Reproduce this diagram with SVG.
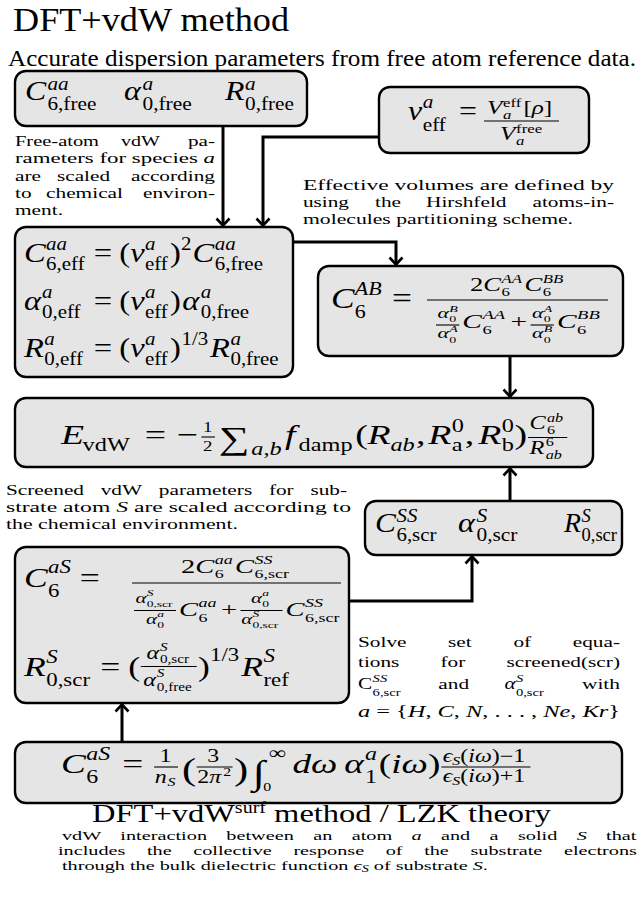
<svg xmlns="http://www.w3.org/2000/svg" width="641" height="900" viewBox="0 0 641 900" font-family="'Liberation Serif', 'Times New Roman', 'DejaVu Serif', serif">
<defs>
<style>
svg, g, text, tspan { font-family: "Liberation Serif", "Times New Roman", Tinos, "DejaVu Serif", serif; }
text { fill: #000; }
.i { font-style: italic; }
.box { fill: #e5e5e5; stroke: #000; stroke-width: 2.4; }
.conn { fill: none; stroke: #000; stroke-width: 3; }
.fb { stroke: #000; stroke-width: 1.1; }
.p { font-size: 15px; }
</style>
<marker id="ah" markerUnits="userSpaceOnUse" viewBox="-10 -8 13 16" markerWidth="13" markerHeight="16" refX="0" refY="0" orient="auto" overflow="visible">
<path d="M-7,-6.5 L0,0 L-7,6.5" fill="none" stroke="#000" stroke-width="2.6"/>
</marker>
</defs>
<rect x="0" y="0" width="641" height="900" fill="#fff"/>

<g id="title-top">
<text x="13" y="31" font-size="33" textLength="276" lengthAdjust="spacingAndGlyphs">DFT+vdW method</text>
<text x="8" y="66" font-size="22.5" textLength="628" lengthAdjust="spacingAndGlyphs">Accurate dispersion parameters from free atom reference data.</text>
</g>

<g id="connectors">
<path class="conn" d="M223,126 V225.5" marker-end="url(#ah)"/>
<path class="conn" d="M379,137 H263 V225.5" marker-end="url(#ah)"/>
<path class="conn" d="M293,242 H396 V264.5" marker-end="url(#ah)"/>
<path class="conn" d="M510,356 V396.5" marker-end="url(#ah)"/>
<path class="conn" d="M510,501 V468.5" marker-end="url(#ah)"/>
<path class="conn" d="M349,601 H472 V556.5" marker-end="url(#ah)"/>
<path class="conn" d="M122,742 V704.5" marker-end="url(#ah)"/>
</g>

<g id="node-free">
<rect class="box" x="15" y="71" width="292" height="55" rx="11"/>
<g transform="translate(25,0) scale(1.18,1)">
<text class="i" x="0" y="100" font-size="27">C</text>
<text class="i" x="19" y="90" font-size="18">aa</text>
<text x="19" y="110" font-size="18">6,free</text>
</g>
<g transform="translate(124,0) scale(1.19,1)">
<text class="i" x="0" y="100" font-size="27">α</text>
<text class="i" x="15.5" y="90" font-size="18">a</text>
<text x="15.5" y="110" font-size="18">0,free</text>
</g>
<g transform="translate(225,0) scale(1.18,1)">
<text class="i" x="0" y="100" font-size="27">R</text>
<text class="i" x="17" y="90" font-size="18">a</text>
<text x="17" y="110" font-size="18">0,free</text>
</g>
</g>

<g id="node-veff">
<rect class="box" x="379" y="87" width="210" height="66" rx="11"/>
<g transform="translate(408,0) scale(1.18,1)">
<text class="i" x="0" y="120" font-size="27">v</text>
<text class="i" x="12.5" y="108" font-size="18">a</text>
<text x="12.5" y="131" font-size="18">eff</text>
</g>
<text x="459" y="120" font-size="27" textLength="18" lengthAdjust="spacingAndGlyphs">=</text>
<line class="fb" x1="484" y1="121" x2="559" y2="121"/>
<g transform="translate(487,0) scale(1.4,1)">
<text class="i" x="0" y="114" font-size="18">V</text>
<text x="11.5" y="107" font-size="12">eff</text>
<text class="i" x="11.5" y="119.5" font-size="12">a</text>
<text x="26" y="114" font-size="18">[<tspan class="i">ρ</tspan>]</text>
</g>
<g transform="translate(500,0) scale(1.4,1)">
<text class="i" x="0" y="140" font-size="18">V</text>
<text x="11.5" y="133" font-size="12">free</text>
<text class="i" x="11.5" y="145.5" font-size="12">a</text>
</g>
</g>

<g id="note-freeatom" class="p">
<text x="15" y="146" textLength="84" lengthAdjust="spacingAndGlyphs">Free-atom</text>
<text x="121" y="146" textLength="39" lengthAdjust="spacingAndGlyphs">vdW</text>
<text x="188" y="146" textLength="27" lengthAdjust="spacingAndGlyphs">pa-</text>
<text x="15" y="163.3" textLength="200" lengthAdjust="spacingAndGlyphs">rameters for species <tspan class="i">a</tspan></text>
<text x="15" y="180.6" textLength="26" lengthAdjust="spacingAndGlyphs">are</text>
<text x="57" y="180.6" textLength="53" lengthAdjust="spacingAndGlyphs">scaled</text>
<text x="131" y="180.6" textLength="84" lengthAdjust="spacingAndGlyphs">according</text>
<text x="15" y="197.9" textLength="16.6" lengthAdjust="spacingAndGlyphs">to</text>
<text x="46" y="197.9" textLength="77" lengthAdjust="spacingAndGlyphs">chemical</text>
<text x="143" y="197.9" textLength="72" lengthAdjust="spacingAndGlyphs">environ-</text>
<text x="15" y="215.2" textLength="48" lengthAdjust="spacingAndGlyphs">ment.</text>
</g>

<g id="note-effective" class="p">
<text x="303" y="190" textLength="311" lengthAdjust="spacingAndGlyphs">Effective volumes are defined by</text>
<text x="303" y="207.2" textLength="46" lengthAdjust="spacingAndGlyphs">using</text>
<text x="375" y="207.2" textLength="26" lengthAdjust="spacingAndGlyphs">the</text>
<text x="426" y="207.2" textLength="80.5" lengthAdjust="spacingAndGlyphs">Hirshfeld</text>
<text x="532.5" y="207.2" textLength="81.5" lengthAdjust="spacingAndGlyphs">atoms-in-</text>
<text x="303" y="224.4" textLength="270" lengthAdjust="spacingAndGlyphs">molecules partitioning scheme.</text>
</g>

<g id="node-eff">
<rect class="box" x="15" y="227" width="278" height="150" rx="11"/>
<g transform="translate(24,0) scale(1.163,1)">
<text class="i" x="0" y="262" font-size="28">C</text>
<text class="i" x="19" y="250" font-size="18">aa</text>
<text x="19" y="270" font-size="18">6,eff</text>
<text x="60" y="262" font-size="28">=</text>
<text x="82" y="262" font-size="28">(</text>
<text class="i" x="91.3" y="262" font-size="28">v</text>
<text class="i" x="104" y="250" font-size="18">a</text>
<text x="104" y="270" font-size="18">eff</text>
<text x="125.5" y="262" font-size="28">)</text>
<text x="135" y="250" font-size="18">2</text>
<text class="i" x="145" y="262" font-size="28">C</text>
<text class="i" x="164" y="250" font-size="18">aa</text>
<text x="164" y="270" font-size="18">6,free</text>

<text class="i" x="0" y="310" font-size="28">α</text>
<text class="i" x="15.5" y="298" font-size="18">a</text>
<text x="15.5" y="318" font-size="18">0,eff</text>
<text x="60" y="310" font-size="28">=</text>
<text x="82" y="310" font-size="28">(</text>
<text class="i" x="91.3" y="310" font-size="28">v</text>
<text class="i" x="104" y="298" font-size="18">a</text>
<text x="104" y="318" font-size="18">eff</text>
<text x="125.5" y="310" font-size="28">)</text>
<text class="i" x="136" y="310" font-size="28">α</text>
<text class="i" x="152" y="298" font-size="18">a</text>
<text x="152" y="318" font-size="18">0,free</text>

<text class="i" x="0" y="357" font-size="28">R</text>
<text class="i" x="17.5" y="345" font-size="18">a</text>
<text x="17.5" y="365" font-size="18">0,eff</text>
<text x="60" y="357" font-size="28">=</text>
<text x="82" y="357" font-size="28">(</text>
<text class="i" x="91.3" y="357" font-size="28">v</text>
<text class="i" x="104" y="345" font-size="18">a</text>
<text x="104" y="365" font-size="18">eff</text>
<text x="125.5" y="357" font-size="28">)</text>
<text x="135.5" y="345" font-size="18">1/3</text>
<text class="i" x="160" y="357" font-size="28">R</text>
<text class="i" x="177.5" y="345" font-size="18">a</text>
<text x="177.5" y="365" font-size="18">0,free</text>
</g>
</g>

<g id="node-c6ab">
<rect class="box" x="318" y="266" width="305" height="90" rx="11"/>
<g transform="translate(331,0) scale(1.22,1)">
<text class="i" x="0" y="308" font-size="29">C</text>
<text class="i" x="19.5" y="295" font-size="18">AB</text>
<text x="19.5" y="318" font-size="18">6</text>
<text x="50" y="308" font-size="29">=</text>
</g>
<line class="fb" x1="427" y1="300" x2="608" y2="300"/>
<g transform="translate(470,0) scale(1.4,1)">
<text x="0" y="291" font-size="19">2</text>
<text class="i" x="9.5" y="291" font-size="19">C</text>
<text class="i" x="22.5" y="283" font-size="12">AA</text>
<text x="22.5" y="296" font-size="12">6</text>
<text class="i" x="39" y="291" font-size="19">C</text>
<text class="i" x="52" y="283" font-size="12">BB</text>
<text x="52" y="296" font-size="12">6</text>
</g>
<g transform="translate(436,0) scale(1.55,1)">
<text class="i" x="1" y="318" font-size="14">α</text>
<text class="i" x="8.5" y="312" font-size="9">B</text>
<text x="8.5" y="322" font-size="9">0</text>
<line class="fb" x1="0" y1="325" x2="15" y2="325"/>
<text class="i" x="1" y="338" font-size="14">α</text>
<text class="i" x="8.5" y="332" font-size="9">A</text>
<text x="8.5" y="343" font-size="9">0</text>
<text class="i" x="17" y="328" font-size="19">C</text>
<text class="i" x="30" y="319" font-size="12">AA</text>
<text x="30" y="334" font-size="12">6</text>
<text x="48" y="328" font-size="19">+</text>
<text class="i" x="62" y="318" font-size="14">α</text>
<text class="i" x="69.5" y="312" font-size="9">A</text>
<text x="69.5" y="322" font-size="9">0</text>
<line class="fb" x1="61" y1="325" x2="76" y2="325"/>
<text class="i" x="62" y="338" font-size="14">α</text>
<text class="i" x="69.5" y="332" font-size="9">B</text>
<text x="69.5" y="343" font-size="9">0</text>
<text class="i" x="78" y="328" font-size="19">C</text>
<text class="i" x="91" y="319" font-size="12">BB</text>
<text x="91" y="334" font-size="12">6</text>
</g>
</g>

<g id="node-evdw">
<rect class="box" x="15" y="398" width="578" height="69" rx="11"/>
<g transform="translate(61,0) scale(1.35,1)">
<text class="i" x="0" y="444" font-size="28">E</text>
<text x="16" y="451" font-size="18">vdW</text>
<text x="62" y="444" font-size="28">=</text>
<text x="86" y="444" font-size="28">−</text>
<text x="105.2" y="432" font-size="14">1</text>
<line class="fb" x1="104" y1="437" x2="114" y2="437"/>
<text x="105.2" y="451" font-size="14">2</text>
<text x="117" y="449" font-size="32">∑</text>
<text x="141" y="455" font-size="18"><tspan class="i">a</tspan>,<tspan class="i">b</tspan></text>
<text class="i" x="166" y="444" font-size="28">f</text>
<text x="176" y="451" font-size="18">damp</text>
<text x="218" y="444" font-size="28">(</text>
<text class="i" x="227" y="444" font-size="28">R</text>
<text class="i" x="244" y="451" font-size="18">ab</text>
<text x="263" y="444" font-size="28">,</text>
<text class="i" x="272" y="444" font-size="28">R</text>
<text x="289.5" y="432" font-size="18">0</text>
<text x="289.5" y="451" font-size="18">a</text>
<text x="299" y="444" font-size="28">,</text>
<text class="i" x="309" y="444" font-size="28">R</text>
<text x="326.5" y="432" font-size="18">0</text>
<text x="326.5" y="451" font-size="18">b</text>
<text x="336" y="444" font-size="28">)</text>
<text class="i" x="347" y="429" font-size="18">C</text>
<text class="i" x="360" y="422" font-size="12">ab</text>
<text x="360" y="434" font-size="12">6</text>
<line class="fb" x1="346" y1="437.5" x2="375" y2="437.5"/>
<text class="i" x="347" y="454" font-size="18">R</text>
<text x="359" y="446.5" font-size="12">6</text>
<text class="i" x="359" y="459" font-size="12">ab</text>
</g>
</g>

<g id="note-screened" class="p">
<text x="6" y="495" textLength="78" lengthAdjust="spacingAndGlyphs">Screened</text>
<text x="100.7" y="495" textLength="41.4" lengthAdjust="spacingAndGlyphs">vdW</text>
<text x="158.8" y="495" textLength="93.4" lengthAdjust="spacingAndGlyphs">parameters</text>
<text x="268.9" y="495" textLength="24.8" lengthAdjust="spacingAndGlyphs">for</text>
<text x="310.4" y="495" textLength="36.7" lengthAdjust="spacingAndGlyphs">sub-</text>
<text x="6" y="512.2" textLength="345" lengthAdjust="spacingAndGlyphs">strate atom <tspan class="i">S</tspan> are scaled according to</text>
<text x="6" y="529.4" textLength="232" lengthAdjust="spacingAndGlyphs">the chemical environment.</text>
</g>

<g id="node-scr">
<rect class="box" x="365" y="501" width="257" height="54" rx="11"/>
<g transform="translate(375,0) scale(1.16,1)">
<text class="i" x="0" y="532" font-size="27">C</text>
<text class="i" x="18.5" y="522" font-size="18">SS</text>
<text x="18.5" y="541" font-size="18">6,scr</text>
</g>
<g transform="translate(458,0) scale(1.19,1)">
<text class="i" x="0" y="532" font-size="27">α</text>
<text class="i" x="15.5" y="522" font-size="18">S</text>
<text x="15.5" y="541" font-size="18">0,scr</text>
</g>
<g transform="translate(564,0) scale(1.03,1)">
<text class="i" x="0" y="532" font-size="27">R</text>
<text class="i" x="17" y="522" font-size="18">S</text>
<text x="17" y="541" font-size="18">0,scr</text>
</g>
</g>

<g id="node-c6as">
<rect class="box" x="15" y="547" width="334" height="156" rx="11"/>
<g transform="translate(24,0) scale(1.27,1)">
<text class="i" x="0" y="587" font-size="28">C</text>
<text class="i" x="19" y="573" font-size="18">aS</text>
<text x="19" y="597" font-size="18">6</text>
<text x="44" y="587" font-size="28">=</text>
</g>
<line class="fb" x1="132" y1="583" x2="341" y2="583"/>
<g transform="translate(181,0) scale(1.5,1)">
<text x="0" y="573" font-size="19">2</text>
<text class="i" x="9.5" y="573" font-size="19">C</text>
<text class="i" x="22.5" y="564" font-size="12">aa</text>
<text x="22.5" y="578" font-size="12">6</text>
<text class="i" x="36" y="573" font-size="19">C</text>
<text class="i" x="49" y="564" font-size="12">SS</text>
<text x="49" y="578" font-size="12">6,scr</text>
</g>
<g transform="translate(134,0) scale(1.5,1)">
<text class="i" x="1" y="603" font-size="14">α</text>
<text class="i" x="8.5" y="596" font-size="9">S</text>
<text x="8.5" y="607" font-size="9">0,scr</text>
<line class="fb" x1="0" y1="610.5" x2="28" y2="610.5"/>
<text class="i" x="8" y="624" font-size="14">α</text>
<text class="i" x="15.5" y="617" font-size="9">a</text>
<text x="15.5" y="628" font-size="9">0</text>
<text class="i" x="30" y="616" font-size="19">C</text>
<text class="i" x="43" y="607" font-size="12">aa</text>
<text x="43" y="622" font-size="12">6</text>
<text x="58" y="616" font-size="19">+</text>
<text class="i" x="78" y="603" font-size="14">α</text>
<text class="i" x="85.5" y="596" font-size="9">a</text>
<text x="85.5" y="607" font-size="9">0</text>
<line class="fb" x1="71" y1="610.5" x2="99" y2="610.5"/>
<text class="i" x="71.5" y="624" font-size="14">α</text>
<text class="i" x="79" y="617" font-size="9">S</text>
<text x="79" y="628" font-size="9">0,scr</text>
<text class="i" x="101" y="616" font-size="19">C</text>
<text class="i" x="114" y="607" font-size="12">SS</text>
<text x="114" y="622" font-size="12">6,scr</text>
</g>
<g transform="translate(24,0) scale(1.27,1)">
<text class="i" x="0" y="676" font-size="28">R</text>
<text class="i" x="17.5" y="663" font-size="18">S</text>
<text x="17.5" y="686" font-size="18">0,scr</text>
<text x="60" y="676" font-size="28">=</text>
<text x="82" y="676" font-size="28">(</text>
<text class="i" x="96.5" y="659" font-size="19">α</text>
<text class="i" x="107" y="651" font-size="12">S</text>
<text x="107" y="663" font-size="12">0,scr</text>
<line class="fb" x1="92" y1="666.5" x2="136" y2="666.5"/>
<text class="i" x="94" y="686" font-size="19">α</text>
<text class="i" x="104.5" y="677" font-size="12">S</text>
<text x="104.5" y="691" font-size="12">0,free</text>
<text x="137" y="676" font-size="28">)</text>
<text x="146.5" y="661" font-size="18">1/3</text>
<text class="i" x="171" y="676" font-size="28">R</text>
<text class="i" x="188.5" y="662" font-size="18">S</text>
<text x="188.5" y="686" font-size="18">ref</text>
</g>
</g>

<g id="note-solve" class="p">
<text x="358" y="647" textLength="48.5" lengthAdjust="spacingAndGlyphs">Solve</text>
<text x="448" y="647" textLength="23.7" lengthAdjust="spacingAndGlyphs">set</text>
<text x="513.4" y="647" textLength="17.7" lengthAdjust="spacingAndGlyphs">of</text>
<text x="572.7" y="647" textLength="47.3" lengthAdjust="spacingAndGlyphs">equa-</text>
<text x="358" y="667" textLength="41.4" lengthAdjust="spacingAndGlyphs">tions</text>
<text x="440.5" y="667" textLength="24.8" lengthAdjust="spacingAndGlyphs">for</text>
<text x="506.5" y="667" textLength="113.5" lengthAdjust="spacingAndGlyphs">screened(scr)</text>
<g transform="translate(358,0) scale(1.33,1)">
<text x="0" y="689" font-size="16">C</text>
<text class="i" x="11" y="682" font-size="11">SS</text>
<text x="11" y="696" font-size="11">6,scr</text>
</g>
<text x="438.3" y="689" textLength="30.8" lengthAdjust="spacingAndGlyphs">and</text>
<g transform="translate(504.6,0) scale(1.33,1)">
<text class="i" x="0" y="689" font-size="16">α</text>
<text class="i" x="8.5" y="682" font-size="11">S</text>
<text x="8.5" y="696" font-size="11">0,scr</text>
</g>
<text x="582" y="689" textLength="38" lengthAdjust="spacingAndGlyphs">with</text>
<text x="358" y="717" font-size="16.5" textLength="262" lengthAdjust="spacingAndGlyphs"><tspan class="i">a</tspan> = {<tspan class="i">H</tspan>, <tspan class="i">C</tspan>, <tspan class="i">N</tspan>, . . . , <tspan class="i">Ne</tspan>, <tspan class="i">Kr</tspan>}</text>
</g>

<g id="node-lzk">
<rect class="box" x="15" y="742" width="607" height="61" rx="11"/>
<g transform="translate(61,0) scale(1.33,1)">
<text class="i" x="0" y="773" font-size="28">C</text>
<text class="i" x="19" y="760" font-size="18">aS</text>
<text x="19" y="783" font-size="18">6</text>
<text x="46" y="773" font-size="28">=</text>
<text x="74" y="762" font-size="18">1</text>
<line class="fb" x1="70" y1="767" x2="88" y2="767"/>
<text class="i" x="70.5" y="783" font-size="18">n</text>
<text class="i" x="80" y="786" font-size="12">S</text>
<text x="91" y="780" font-size="32">(</text>
<text x="110" y="762" font-size="18">3</text>
<line class="fb" x1="102" y1="767" x2="129" y2="767"/>
<text x="102.5" y="783" font-size="18">2<tspan class="i">π</tspan></text>
<text x="122" y="776" font-size="12">2</text>
<text x="130" y="780" font-size="32">)</text>
<text class="i" x="144" y="784" font-size="34">∫</text>
<text x="156" y="759" font-size="18">∞</text>
<text x="152" y="791" font-size="12">0</text>
<text class="i" x="174" y="773" font-size="28">d</text>
<text class="i" x="188" y="773" font-size="28">ω</text>
<text class="i" x="213" y="773" font-size="28">α</text>
<text class="i" x="228.5" y="760" font-size="18">a</text>
<text x="228.5" y="783" font-size="18">1</text>
<text x="239" y="773" font-size="28">(<tspan class="i">iω</tspan>)</text>
<text x="287" y="762" font-size="18"><tspan class="i">ϵ</tspan><tspan class="i" font-size="12" dy="3">S</tspan><tspan dy="-3">(</tspan><tspan class="i">iω</tspan>)−1</text>
<line class="fb" x1="286" y1="767" x2="353" y2="767"/>
<text x="287" y="782" font-size="18"><tspan class="i">ϵ</tspan><tspan class="i" font-size="12" dy="3">S</tspan><tspan dy="-3">(</tspan><tspan class="i">iω</tspan>)+1</text>
</g>
</g>

<g id="title-bottom">
<g transform="translate(92,0) scale(1.25,1)">
<text x="0" y="822" font-size="26">DFT+vdW<tspan font-size="16" dy="-9">surf</tspan><tspan dy="9"> method / LZK theory</tspan></text>
</g>
<g transform="translate(62,0) scale(1.5,1)">
<text x="0" y="840" font-size="13.5" word-spacing="9.5" textLength="383" lengthAdjust="spacing">vdW interaction between an atom <tspan class="i">a</tspan> and a solid <tspan class="i">S</tspan> that</text>
<text x="-2.7" y="855" font-size="13.5" word-spacing="11" textLength="386" lengthAdjust="spacing">includes the collective response of the substrate electrons</text>
<text x="0" y="870" font-size="13.5">through the bulk dielectric function <tspan class="i">ϵ</tspan><tspan class="i" font-size="9.5" dy="2.5">S</tspan><tspan dy="-2.5"> of substrate </tspan><tspan class="i">S</tspan>.</text>
</g>
</g>
</svg>
